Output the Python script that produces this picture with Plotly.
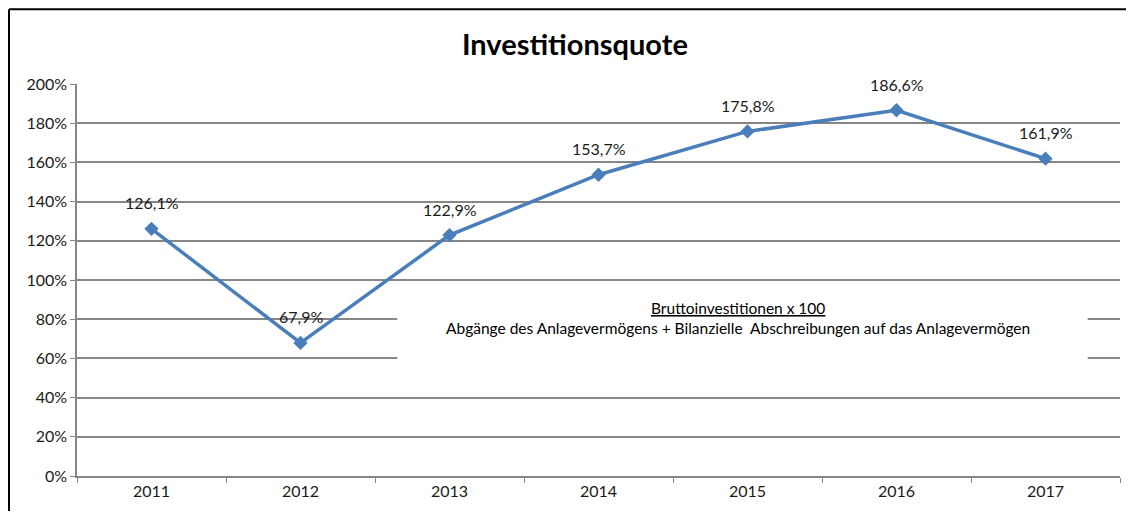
import plotly.graph_objects as go

years = ["2011", "2012", "2013", "2014", "2015", "2016", "2017"]
quote = [126.1, 67.9, 122.9, 153.7, 175.8, 186.6, 161.9]
y_ticks = [0, 20, 40, 60, 80, 100, 120, 140, 160, 180, 200]
y_tick_text = [f"{v}%" for v in y_ticks]

font_family = "Lato, 'Open Sans', sans-serif"
line_color = "#4A7EBB"
grid_color = "#868686"

fig = go.Figure()
fig.add_trace(go.Scatter(
    x=years,
    y=quote,
    mode="lines+markers",
    line=dict(color=line_color, width=3.5),
    marker=dict(symbol="diamond", size=11, color=line_color),
    hoverinfo="skip",
    showlegend=False,
))

# data labels above each point (x given as category index)
for i, v in enumerate(quote):
    fig.add_annotation(
        x=i, y=v, text=f"{v:.1f}%".replace(".", ","),
        showarrow=False, yshift=26,
        font=dict(family=font_family, size=16, color="#1a1a1a"),
    )

# formula box covering the grid lines
fig.add_shape(type="rect", xref="paper", yref="paper",
              x0=0.307, x1=0.969, y0=0.276, y1=0.487,
              fillcolor="white", line=dict(width=0), layer="above")
fig.add_annotation(
    xref="paper", yref="paper", x=0.634, y=0.4286,
    text="<u>Bruttoinvestitionen x 100</u>", showarrow=False,
    font=dict(family=font_family, size=15.5, color="#000"),
)
fig.add_annotation(
    xref="paper", yref="paper", x=0.634, y=0.3776,
    text="Abgänge des Anlagevermögens + Bilanzielle  Abschreibungen auf das Anlagevermögen",
    showarrow=False,
    font=dict(family=font_family, size=15.5, color="#000"),
)

# outer frame: only top and left edges are inside the picture
frame = dict(color="black", width=2)
fig.add_shape(type="line", xref="paper", yref="paper",
              x0=-0.0652, x1=1.0058, y0=1.191, y1=1.191, line=frame)
fig.add_shape(type="line", xref="paper", yref="paper",
              x0=-0.0652, x1=-0.0652, y0=-0.089, y1=1.191, line=frame)

fig.update_layout(
    width=1118,
    height=503,
    margin=dict(l=69, r=6, t=76, b=35),
    paper_bgcolor="white",
    plot_bgcolor="white",
    title=dict(text="<b>Investitionsquote</b>", x=0.5071, xanchor="center",
               y=0.9264, yanchor="middle",
               font=dict(family=font_family, size=29, color="#000")),
    font=dict(family=font_family, size=16, color="#1a1a1a"),
    xaxis=dict(
        type="category", range=[-0.5, 6.5],
        showgrid=False, showline=True, linecolor=grid_color, linewidth=1.5,
        ticks="outside", ticklen=5, tickcolor=grid_color, tickson="boundaries",
        tickfont=dict(size=16, color="#1a1a1a"),
        zeroline=False, fixedrange=True,
    ),
    yaxis=dict(
        range=[0, 200], tickvals=y_ticks, ticktext=y_tick_text,
        showgrid=True, gridcolor=grid_color, gridwidth=1.5,
        showline=True, linecolor=grid_color, linewidth=1.5,
        ticks="outside", ticklen=5, tickcolor=grid_color,
        tickfont=dict(size=16, color="#1a1a1a"),
        zeroline=False, fixedrange=True,
    ),
)

fig.write_html("out.html")
